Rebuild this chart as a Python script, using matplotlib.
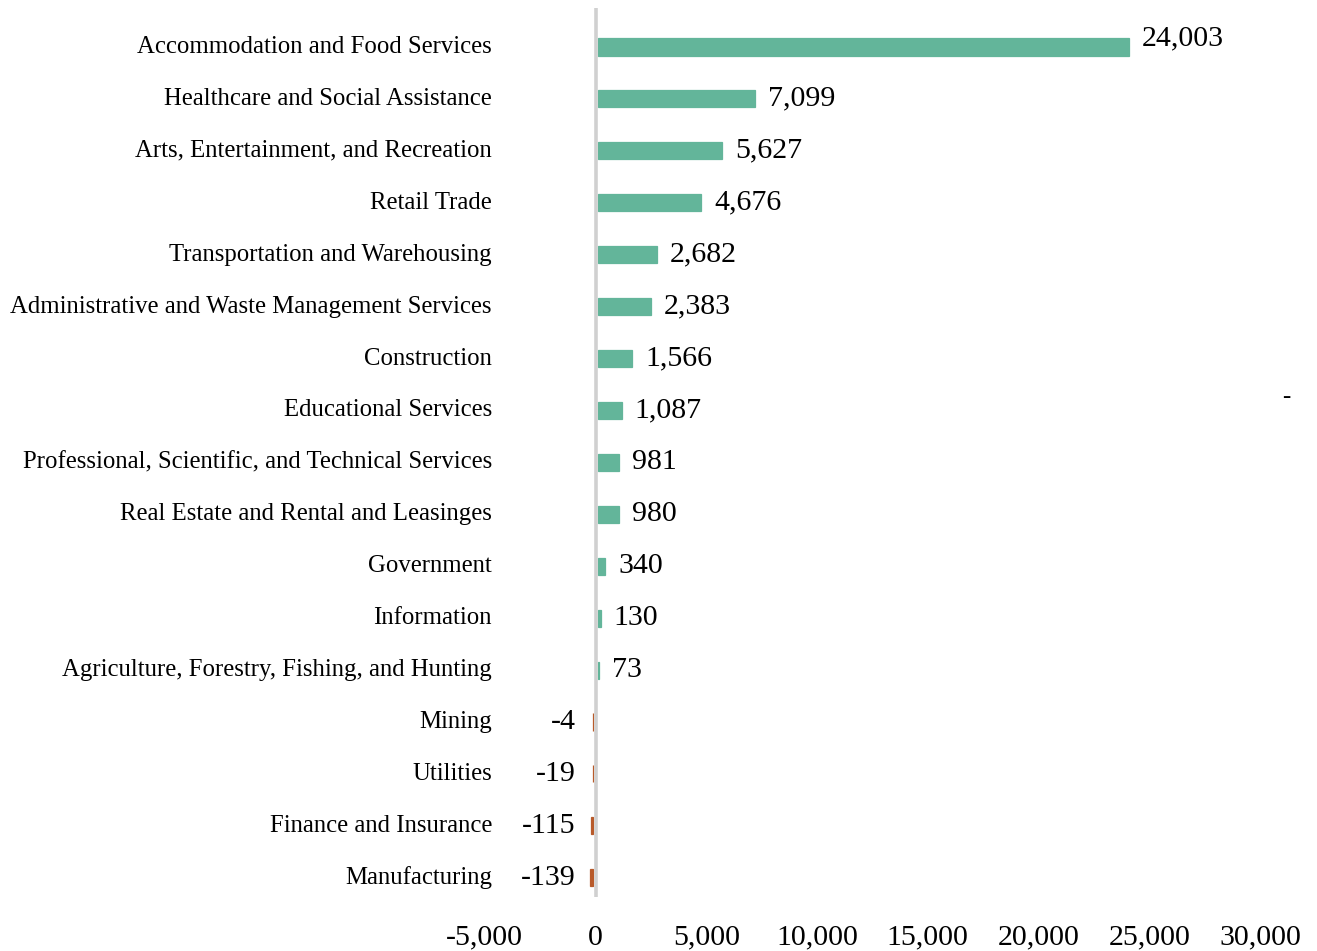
import matplotlib
matplotlib.use("Agg")
import matplotlib.pyplot as plt
import matplotlib.transforms as mtransforms
from matplotlib.ticker import FuncFormatter

industries = [
    "Accommodation and Food Services",
    "Healthcare and Social Assistance",
    "Arts, Entertainment, and Recreation",
    "Retail Trade",
    "Transportation and Warehousing",
    "Administrative and Waste Management Services",
    "Construction",
    "Educational Services",
    "Professional, Scientific, and Technical Services",
    "Real Estate and Rental and Leasinges",
    "Government",
    "Information",
    "Agriculture, Forestry, Fishing, and Hunting",
    "Mining",
    "Utilities",
    "Finance and Insurance",
    "Manufacturing",
]
change = [24003, 7099, 5627, 4676, 2682, 2383, 1566, 1087, 981, 980,
          340, 130, 73, -4, -19, -115, -139]
x_ticks = [-5000, 0, 5000, 10000, 15000, 20000, 25000, 30000]

POS = "#63b59a"
NEG = "#b85a2a"
FONT = "Liberation Serif"
plt.rcParams["font.family"] = [FONT, "DejaVu Serif"]

W, H = 1317, 951
fig = plt.figure(figsize=(W / 100, H / 100), dpi=100)
left_px, right_px, top_px, bot_px = 484.8, 1260.0, 8, 897
ax = fig.add_axes([left_px / W, 1 - bot_px / H,
                   (right_px - left_px) / W, (bot_px - top_px) / H])

ypos = list(range(len(industries)))

# bars sit just outside the zero line on either side
gap = 2.2 / 100
shift_r = ax.transData + mtransforms.ScaledTranslation(gap, 0, fig.dpi_scale_trans)
shift_l = ax.transData + mtransforms.ScaledTranslation(-gap, 0, fig.dpi_scale_trans)
for y, v in zip(ypos, change):
    col = POS if v >= 0 else NEG
    ax.barh(y, v, height=0.33, color=col, edgecolor=col, linewidth=0.9,
            transform=shift_r if v >= 0 else shift_l, zorder=2)
ax.axvline(0, color="#d0d0d0", lw=2.6, zorder=3)

ax.set_xlim(x_ticks[0], x_ticks[-1])
ax.set_ylim(len(industries) - 1 + 0.37, -0.75)
ax.set_xticks(x_ticks)
ax.xaxis.set_major_formatter(FuncFormatter(lambda v, p: f"{int(v):,}"))
ax.tick_params(axis="x", length=0, pad=20, labelsize=21.5)
ax.set_yticks([])
for s in ax.spines.values():
    s.set_visible(False)

# category names, right-aligned left of the zero line
trans = mtransforms.blended_transform_factory(ax.transAxes, ax.transData)
name_x = (492 - left_px) / (right_px - left_px)
for y, name in zip(ypos, industries):
    ax.text(name_x, y, name, transform=trans, ha="right", va="center",
            fontsize=17.8)

# value labels at bar ends
for y, v in zip(ypos, change):
    dy = -9 if y == 0 else 0
    if v >= 0:
        off = mtransforms.offset_copy(ax.transData, fig=fig, x=15, y=-dy, units="dots")
        ax.text(v, y, f"{v:,}", transform=off, ha="left", va="center", fontsize=21.5)
    else:
        off = mtransforms.offset_copy(ax.transData, fig=fig, x=-20, y=-dy, units="dots")
        ax.text(0, y, f"{v:,}", transform=off, ha="right", va="center", fontsize=21.5)

fig.text(1286 / W, 1 - 397 / H, "-", ha="center", va="center", fontsize=18)

fig.savefig("out.png", dpi=100)
